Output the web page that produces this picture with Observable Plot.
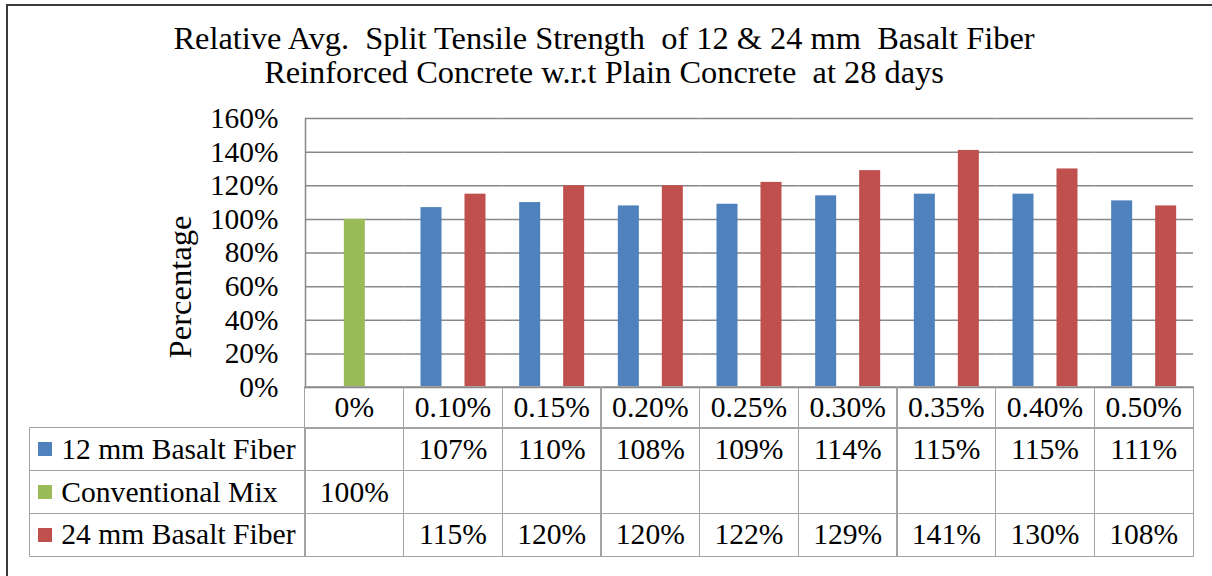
<!DOCTYPE html>
<html>
<head>
<meta charset="utf-8">
<script src="https://cdn.jsdelivr.net/npm/d3@7"></script>
<script src="https://cdn.jsdelivr.net/npm/@observablehq/plot@0.6"></script>
<style>
  html, body { margin: 0; padding: 0; background: #fff; }
  #root { position: relative; width: 1212px; height: 576px; overflow: hidden; background: #fff;
          font-family: "Liberation Serif", "Times New Roman", serif; color: #000; }
  .frame { position: absolute; left: 6px; top: 4px; width: 1400px; height: 800px;
           border: 2px solid #3a3a3a; box-sizing: border-box; }
  .title { position: absolute; left: 0; top: 21px; width: 1208px; text-align: center;
           font-size: 32.4px; line-height: 34px; white-space: pre; }
  .ylabel { position: absolute; left: 180px; top: 287px; font-size: 32.6px; line-height: 34px;
            white-space: nowrap; transform: translate(-50%, -50%) rotate(-90deg); }
  #chart { position: absolute; left: 0; top: 0; }
  .cell { position: absolute; box-sizing: border-box; border: 1.5px solid #a3a3a3;
          display: flex; align-items: center; justify-content: center;
          font-size: 29.6px; white-space: nowrap; }
  .cell.legend { justify-content: flex-start; padding-left: 8px; }
  .swatch { display: inline-block; width: 14px; height: 14px; margin-right: 9px; flex: none; }
</style>
</head>
<body>
<div id="root">
  <div class="frame"></div>
  <div class="title">Relative Avg.  Split Tensile Strength  of 12 &amp; 24 mm  Basalt Fiber<br>Reinforced Concrete w.r.t Plain Concrete  at 28 days</div>
  <div class="ylabel">Percentage</div>
  <div id="chart"></div>
  <div id="table"></div>
</div>
<script>
// ---- data ----
const categories = ["0%", "0.10%", "0.15%", "0.20%", "0.25%", "0.30%", "0.35%", "0.40%", "0.50%"];
const seriesNames = ["12 mm Basalt Fiber", "Conventional Mix", "24 mm Basalt Fiber"];
const seriesColors = ["#4F81BD", "#9BBB59", "#C0504D"];
const fiber12mm = [null, 1.07, 1.10, 1.08, 1.09, 1.14, 1.15, 1.15, 1.11];
const conventionalMix = [1.00, null, null, null, null, null, null, null, null];
const fiber24mm = [null, 1.15, 1.20, 1.20, 1.22, 1.29, 1.41, 1.30, 1.08];
const yTicks = [0, 0.2, 0.4, 0.6, 0.8, 1.0, 1.2, 1.4, 1.6];

const seriesValues = [fiber12mm, conventionalMix, fiber24mm];
const rows = [];
categories.forEach((cat, i) => {
  seriesNames.forEach((s, j) => {
    const v = seriesValues[j][i];
    if (v != null) rows.push({cat, series: s, value: v});
  });
});

const FONT = '"Liberation Serif", "Times New Roman", serif';
const pct = d3.format(".0%");

const chart = Plot.plot({
  width: 1212,
  height: 390,
  marginTop: 118,
  marginBottom: 3,
  marginLeft: 305,
  marginRight: 19,
  style: {background: "transparent", fontFamily: FONT, color: "#000", overflow: "visible"},
  fx: {domain: categories, padding: 0, round: false, axis: null, label: null},
  x: {domain: seriesNames, paddingInner: 0.045, paddingOuter: 0.765, round: false, axis: null, label: null},
  y: {domain: [0, 1.6], axis: null},
  color: {domain: seriesNames, range: seriesColors},
  marks: [
    Plot.gridY(yTicks, {stroke: "#888888", strokeOpacity: 1, strokeWidth: 1.5}),
    Plot.frame({anchor: "left", facetAnchor: "left", stroke: "#888888", strokeWidth: 1.5}),
    Plot.axisY(yTicks, {tickFormat: pct, tickSize: 0, tickPadding: 27, fontSize: 29.4, label: null, fill: "#000"}),
    Plot.barY(rows, {fx: "cat", x: "series", y: "value", fill: "series"})
  ]
});
document.getElementById("chart").appendChild(chart);

// ---- data table aligned with the facet scale ----
const fxScale = chart.scale("fx");
const colX = categories.map(c => fxScale.apply(c));
const colW = fxScale.bandwidth;
const legendLeft = 30;
const rowTops = [387, 428, 470.7, 513.4];
const rowHeights = [41, 42.7, 42.7, 42.7];
const table = document.getElementById("table");

function cell(left, top, width, height, content, cls) {
  const d = document.createElement("div");
  d.className = "cell" + (cls ? " " + cls : "");
  d.style.left = (left - 0.75) + "px";
  d.style.top = (top - 0.75) + "px";
  d.style.width = (width + 1.5) + "px";
  d.style.height = (height + 1.5) + "px";
  if (typeof content === "string") d.textContent = content;
  else if (content) d.appendChild(content);
  table.appendChild(d);
}

categories.forEach((c, i) => cell(colX[i], rowTops[0], colW, rowHeights[0], c));
seriesNames.forEach((s, j) => {
  const r = j + 1;
  const frag = document.createElement("span");
  frag.style.display = "flex";
  frag.style.alignItems = "center";
  const sw = document.createElement("span");
  sw.className = "swatch";
  sw.style.background = seriesColors[j];
  frag.appendChild(sw);
  frag.appendChild(document.createTextNode(s));
  cell(legendLeft, rowTops[r], colX[0] - legendLeft, rowHeights[r], frag, "legend");
  categories.forEach((c, i) => {
    const v = seriesValues[j][i];
    cell(colX[i], rowTops[r], colW, rowHeights[r], v == null ? "" : pct(v));
  });
});
</script>
</body>
</html>
